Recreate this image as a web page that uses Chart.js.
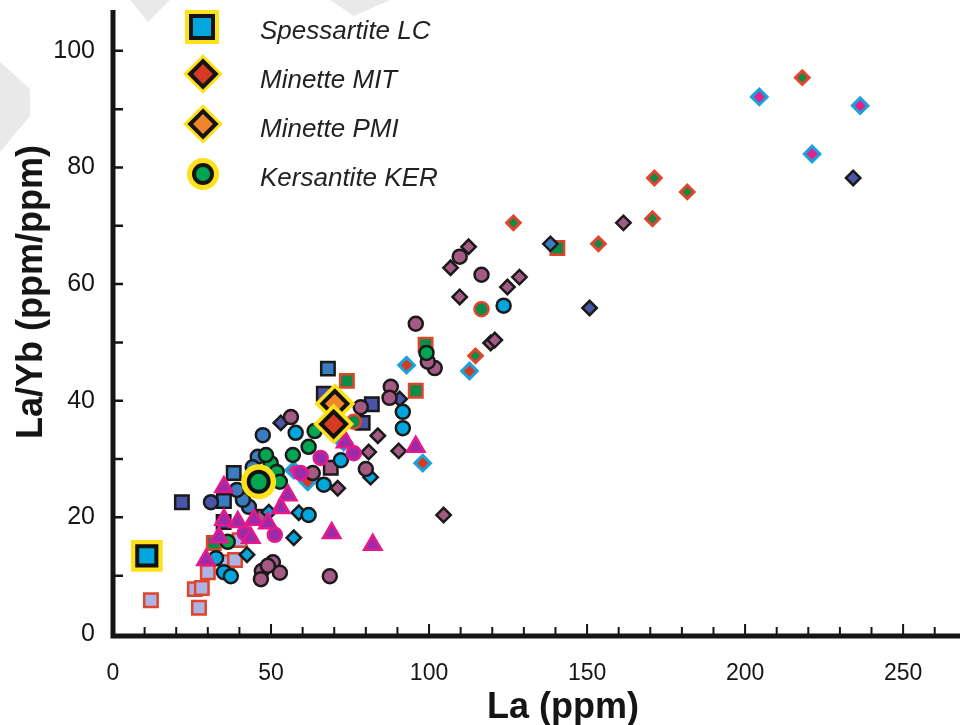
<!DOCTYPE html>
<html>
<head>
<meta charset="utf-8">
<script src="https://cdn.jsdelivr.net/npm/chart.js@4.4.1/dist/chart.umd.min.js"></script>
<style>
  body { margin: 0; background: #fff; font-family: "Liberation Sans", Arial, sans-serif; }
  #wrap { position: relative; width: 960px; height: 725px; overflow: hidden; }
  .mk { position: absolute; box-sizing: border-box; border: 4px solid #151515; }
  .lab { position: absolute; left: 260px; font-style: italic; font-size: 26px; color: #222; line-height: 30px; white-space: nowrap; }
  .ttl { position: absolute; font-weight: bold; font-size: 36px; color: #151515; white-space: nowrap; transform: translate(-50%, -50%); }
  .wm { position: absolute; background: #e9e9e9; }
</style>
</head>
<body>
<div id="wrap">
  <!-- faint watermark remnants -->
  <div class="wm" style="left:0;top:62px;width:30px;height:90px;clip-path:polygon(0 0,100% 30%,100% 60%,0 100%);"></div>
  <div class="wm" style="left:130px;top:0;width:40px;height:22px;clip-path:polygon(0 0,100% 0,45% 100%);"></div>
  <div class="wm" style="left:330px;top:0;width:60px;height:16px;clip-path:polygon(0 0,100% 0,40% 100%);"></div>

  <canvas id="myChart" style="position:relative;"></canvas>

  <!-- legend -->
  <div class="mk" style="left:189px;top:14px;width:26px;height:26px;background:#00a6dc;box-shadow:0 0 0 4px #ffe11a;"></div>
  <div class="mk" style="left:192px;top:63px;width:22px;height:22px;background:#d63a22;transform:rotate(45deg);box-shadow:0 0 0 3px #ffe11a;"></div>
  <div class="mk" style="left:192px;top:113px;width:22px;height:22px;background:#f0852a;transform:rotate(45deg);box-shadow:0 0 0 3px #ffe11a;"></div>
  <div class="mk" style="left:192px;top:163px;width:22px;height:22px;background:#00a651;border-radius:50%;box-shadow:0 0 0 5px #ffe11a;"></div>
  <div class="lab" style="top:15px;">Spessartite LC</div>
  <div class="lab" style="top:64px;">Minette MIT</div>
  <div class="lab" style="top:113px;">Minette PMI</div>
  <div class="lab" style="top:162px;">Kersantite KER</div>

  <div class="ttl" style="left:30px;top:292px;transform:translate(-50%,-50%) rotate(-90deg);">La/Yb (ppm/ppm)</div>
  <div class="ttl" style="left:563px;top:706px;">La (ppm)</div>
</div>

<script>
// tick labels
const xTickLabels = [0, 50, 100, 150, 200, 250];
const yTickLabels = [0, 20, 40, 60, 80, 100];

// highlighted samples (legend)
const spessartiteLC = [[10.7, 13.4]];
const minetteMIT = [[69.8, 36.0]];
const minettePMI = [[70.2, 39.5]];
const kersantiteKER = [[46.1, 26.1]];

// squares
const lavenderSquares = [[12, 5.8], [27.2, 4.5], [25.9, 7.7], [28.1, 7.9], [30, 10.6], [36, 12.3], [38.6, 12.7], [40.1, 16.1]];
const greenSquares = [[74, 43.4], [95.8, 41.7], [98.9, 49.6], [140.6, 66.2], [31.9, 15.6]];
const mauveSquares = [[68.9, 28.5], [47.7, 20.1]];
const blueSquares = [[68, 45.5], [38.2, 27.6], [35.1, 22.8]];
const navySquares = [[21.8, 22.6], [66.7, 41.2], [81.9, 39.4], [79, 36.2], [35, 19.2]];

// diamonds
const mauveDiamonds = [[112.5, 66.4], [106.8, 62.8], [109.7, 57.8], [124.8, 59.5], [128.6, 61.2], [119.5, 49.9], [120.8, 50.4],
  [161.5, 70.5], [104.6, 20.4], [83.8, 34], [90.4, 31.4], [80.9, 31.2], [71.1, 25]];
const cyanDiamonds = [[58.8, 20.8], [57.2, 16.5], [42.4, 13.6], [81.5, 26.9], [49.3, 20.9]];
const navyDiamonds = [[53.1, 36.2], [90.7, 40.3], [150.8, 55.9], [234.2, 78.2]];
const blueDiamonds = [[138.4, 66.9]];
const redDiamonds = [[92.9, 46.1], [112.8, 45.1], [98, 29.3], [61.6, 26.1]];
const magentaDiamonds = [[204.5, 92.1], [236.4, 90.6], [221.2, 82.3], [73, 32.9], [57.2, 28.1]];
const greenDiamonds = [[218.1, 95.4], [171.3, 78.2], [181.7, 75.8], [170.7, 71.2], [126.7, 70.5], [153.6, 66.9], [114.7, 47.7]];

// circles
const mauveCircles = [[95.8, 53.2], [101.8, 45.6], [99.6, 46.7], [87.9, 42.4], [87.5, 40.5], [78.4, 38.9], [56.3, 37.2], [80, 28.3],
  [63.2, 27.6], [109.7, 64.7], [116.6, 61.6], [47.1, 10.8], [50.6, 12.3], [52.8, 10.5], [46.8, 9.4], [49, 11.7], [68.6, 9.9]];
const cyanCircles = [[91.7, 38.1], [91.7, 35.3], [57.8, 34.5], [72.1, 29.8], [66.7, 25.6], [123.6, 56.3], [61.9, 20.4],
  [32.6, 13], [35.1, 10.6], [37.3, 9.9]];
const blueCircles = [[47.4, 34.1], [45.8, 30.4], [44.2, 28.6], [43, 21.8], [41.1, 23], [39.2, 24.7]];
const navyCircles = [[31, 22.6]];
const greenCircles = [[56.9, 30.7], [49.9, 29.3], [51.8, 27.8], [52.8, 26.1], [61.9, 32.1], [63.8, 34.8], [36.3, 15.8], [99.2, 48.2], [48.4, 30.7]];
const greenRedCircles = [[116.6, 55.7], [76.2, 36.4]];
const purpleCircles = [[76.2, 31], [65.7, 30.2], [59.4, 27.6], [41.7, 17.3], [51.2, 17]];

// triangles
const triangles = [[69.2, 17.3], [82.2, 15.3], [95.8, 32.1], [35.1, 25.2], [29.4, 12.7], [35.1, 19.6], [39.5, 19.2], [44.6, 19.6],
  [49, 19], [53.1, 21.6], [43.6, 16.5], [33.5, 16.6], [55.3, 23.8], [73.6, 32.9]];

const INK = '#1a1a1a', RED = '#e0442a', CYAN = '#19a3dd', PINK = '#e6198c', YELLOW = '#ffe11a';

// drawn bottom to top: [data, pointStyle, fill, border, radius, borderWidth]
const layers = [
  [lavenderSquares, 'rect', '#aeb3e6', RED, 9.5, 2.5],
  [greenSquares, 'rect', '#0b8c48', RED, 9.5, 2.5],
  [mauveSquares, 'rect', '#a45a82', INK, 9.5, 2.5],
  [blueSquares, 'rect', '#3b7cc0', INK, 9.5, 2.5],
  [navySquares, 'rect', '#4a55a8', INK, 9.5, 2.5],
  [mauveDiamonds, 'rectRot', '#a45a82', INK, 7.2, 2.5],
  [cyanDiamonds, 'rectRot', '#00a6dc', INK, 7.2, 2.5],
  [navyDiamonds, 'rectRot', '#4a55a8', INK, 7.2, 2.5],
  [blueDiamonds, 'rectRot', '#3b7cc0', INK, 7.2, 2.5],
  [redDiamonds, 'rectRot', '#d63a22', CYAN, 7.8, 3],
  [magentaDiamonds, 'rectRot', '#e0248c', CYAN, 7.8, 3],
  [greenDiamonds, 'rectRot', '#0b8c48', RED, 6.8, 3],
  [mauveCircles, 'circle', '#a45a82', INK, 7, 2.5],
  [cyanCircles, 'circle', '#00a6dc', INK, 7, 2.5],
  [blueCircles, 'circle', '#3b7cc0', INK, 7, 2.5],
  [navyCircles, 'circle', '#4a55a8', INK, 7, 2.5],
  [greenCircles, 'circle', '#00a651', INK, 7, 2.5],
  [greenRedCircles, 'circle', '#0b8c48', RED, 7, 2.5],
  [purpleCircles, 'circle', '#9b2ca9', PINK, 7, 2.5],
  [triangles, 'triangle', '#9b2ca9', PINK, 10, 2.5],
  // highlighted: yellow halo below, black-rimmed marker above
  [spessartiteLC, 'rect', YELLOW, YELLOW, 22.4, 0],
  [spessartiteLC, 'rect', '#00a6dc', '#111', 13.5, 4],
  [minettePMI, 'rectRot', YELLOW, YELLOW, 20.5, 0],
  [minettePMI, 'rectRot', '#f0852a', '#111', 12.5, 4],
  [minetteMIT, 'rectRot', YELLOW, YELLOW, 20.5, 0],
  [minetteMIT, 'rectRot', '#d63a22', '#111', 12.5, 4],
  [kersantiteKER, 'circle', YELLOW, YELLOW, 17.5, 0],
  [kersantiteKER, 'circle', '#00a651', '#111', 10, 4],
];

const datasets = layers.map(([data, style, fill, border, r, bw], i) => ({
  data: data,
  pointStyle: style,
  backgroundColor: fill,
  borderColor: border,
  pointRadius: r,
  pointBorderWidth: bw,
  showLine: false,
  order: layers.length - i
}));

// thick axes with inward ticks
const axesPlugin = {
  id: 'axes',
  afterDraw(chart) {
    const { ctx, chartArea: a, scales: { x, y } } = chart;
    ctx.save();
    ctx.strokeStyle = '#151515';
    ctx.lineCap = 'butt';
    ctx.lineWidth = 5;
    ctx.beginPath();
    ctx.moveTo(a.left, a.top);
    ctx.lineTo(a.left, a.bottom + 4.5);
    ctx.moveTo(a.left - 2.5, a.bottom + 2);
    ctx.lineTo(a.right, a.bottom + 2);
    ctx.stroke();

    ctx.lineWidth = 2.5;
    ctx.beginPath();
    for (let v = 10; v <= 100; v += 10) {
      const py = y.getPixelForValue(v);
      ctx.moveTo(a.left, py);
      ctx.lineTo(a.left + 10, py);
    }
    ctx.stroke();

    ctx.lineWidth = 2;
    ctx.beginPath();
    for (let v = 10; v <= 260; v += 10) {
      const px = x.getPixelForValue(v);
      const len = v % 50 === 0 ? 10 : 7;
      ctx.moveTo(px, a.bottom);
      ctx.lineTo(px, a.bottom - len);
    }
    ctx.stroke();
    ctx.restore();
  }
};

// no extra room for the outermost tick labels
const noPad = s => { s.paddingTop = 0; s.paddingBottom = 0; s.paddingLeft = 0; s.paddingRight = 0; };

const ctx = document.getElementById('myChart').getContext('2d');

new Chart(ctx, {
  type: 'scatter',
  data: { datasets: datasets },
  options: {
    responsive: true,
    maintainAspectRatio: false,
    animation: false,
    layout: { autoPadding: false, padding: { top: 10, right: 0, left: 0, bottom: 0 } },
    plugins: {
      legend: { display: false },
      tooltip: { enabled: false }
    },
    scales: {
      x: {
        type: 'linear',
        min: 0,
        max: 268,
        afterBuildTicks: s => { s.ticks = xTickLabels.map(v => ({ value: v })); },
        afterFit: s => { s.height = 91; noPad(s); },
        grid: { display: false, drawTicks: false },
        border: { display: false },
        ticks: {
          padding: 26,
          color: '#151515',
          maxRotation: 0,
          font: { family: '"Liberation Sans", Arial, sans-serif', size: 23 }
        }
      },
      y: {
        type: 'linear',
        min: 0,
        max: 107,
        afterBuildTicks: s => { s.ticks = yTickLabels.map(v => ({ value: v })); },
        afterFit: s => { s.width = 113; noPad(s); },
        grid: { display: false, drawTicks: false },
        border: { display: false },
        ticks: {
          padding: 18,
          color: '#151515',
          font: { family: '"Liberation Sans", Arial, sans-serif', size: 25 }
        }
      }
    }
  },
  plugins: [axesPlugin]
});
</script>
</body>
</html>
